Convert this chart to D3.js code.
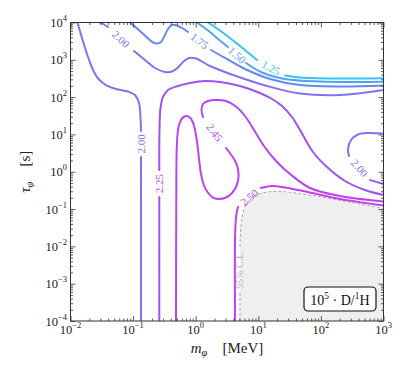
<!DOCTYPE html>
<html>
<head>
<meta charset="utf-8">
<script src="https://cdn.jsdelivr.net/npm/d3@7"></script>
<style>
  body { margin: 0; background: #fff; }
</style>
</head>
<body>
<script>
// tick exponents (10^e)
const xTickExp = [-2, -1, 0, 1, 2, 3];
const yTickExp = [-4, -3, -2, -1, 0, 1, 2, 3, 4];

const levels = ["1.25", "1.50", "1.75", "2.00", "2.25", "2.45", "2.50"];

// contours as [m_phi (MeV), tau_phi (s)]; each contour is split into segments,
// the inline label sits in the gap between two segments
const c125 = [
  [[1.57, 1e4], [2.63, 5560], [5.10, 2344], [9.53, 989]],
  [[26.7, 380], [46.4, 336], [202, 316], [1000, 320]]
];
const c150 = [
  [[1.05, 1e4], [1.69, 5560], [2.44, 3293], [3.28, 2205]],
  [[6.36, 821], [11.5, 457], [26.7, 306], [96.7, 262], [1000, 258]]
];
const c175 = [
  [[0.0892, 1e4], [0.1289, 5918], [0.1667, 3963], [0.208, 2911], [0.241, 2737], [0.279, 3002],
   [0.3117, 4088], [0.361, 6696], [0.418, 8570], [0.503, 8311], [0.604, 7123], [0.753, 5560]],
  [[1.76, 1832], [2.94, 1119], [6.13, 567], [15.4, 306], [46.4, 211], [202, 193], [1000, 205]]
];
const c200top = [
  [[0.0296, 1e4], [0.0343, 8839], [0.0397, 7573]],
  [[0.1034, 1723], [0.155, 989], [0.2238, 603], [0.3233, 471], [0.418, 486], [0.522, 622],
   [0.627, 874], [0.782, 1119], [1.01, 1084], [1.69, 682], [3.94, 392], [13.8, 199],
   [46.4, 125], [202, 114], [1000, 155]]
];
const c200left = [
  [[0.01294, 1e4], [0.01527, 3842], [0.01904, 1190], [0.02373, 471], [0.02852, 297],
   [0.0369, 211], [0.0533, 165], [0.0829, 141], [0.1072, 114], [0.1243, 69.6],
   [0.1313, 27.6], [0.1337, 12.4]],
  [[0.1337, 2.48], [0.1337, 1e-4]]
];
const c200right = [
  [[1000, 10.6], [565, 10.9], [391, 9.96], [303, 7.09], [271, 4.07], [281, 2.64]],
  [[609, 0.601], [1000, 0.470]]
];
const c225 = [
  [[0.262, 1e-4], [0.262, 0.2105]],
  [[0.262, 1.11], [0.264, 13.1], [0.274, 51.1], [0.3003, 101], [0.361, 155], [0.522, 199],
   [0.811, 239], [1.41, 270], [2.44, 254], [5.10, 199], [10.6, 129], [16.6, 89.1],
   [23.9, 57.8], [34.5, 29.3], [46.4, 13.1], [74.8, 3.38], [125, 1.34], [243, 0.565],
   [506, 0.324], [1000, 0.238]]
];
const c245 = [
  [[0.4844, 1e-4], [0.4898, 0.175], [0.497, 3.83], [0.512, 9.66], [0.541, 17.9], [0.604, 26.7],
   [0.70, 31.2], [0.811, 28.4], [0.922, 19.0], [1.01, 9.66], [1.09, 3.83], [1.15, 1.71],
   [1.215, 0.87], [1.33, 0.470], [1.54, 0.286], [1.89, 0.204], [2.36, 0.186], [3.05, 0.204],
   [3.80, 0.269], [4.48, 0.415], [4.83, 0.723], [4.65, 1.34], [4.09, 2.19], [3.05, 4.33]],
  [[1.31, 29.3], [1.238, 45.2], [1.31, 65.4], [1.57, 78.7], [2.11, 83.7], [3.05, 78.7],
   [4.40, 56.1], [6.13, 31.2], [8.54, 13.1], [12.3, 4.90], [19.2, 1.94], [32.1, 0.87],
   [67.0, 0.367], [202, 0.224], [1000, 0.159]]
];
const c250 = [
  [[4.245, 1e-4], [4.245, 0.01483], [4.32, 0.0374], [4.48, 0.0737], [4.74, 0.1136]],
  [[11.0, 0.367], [16.6, 0.415], [26.7, 0.378], [67.0, 0.278], [202, 0.186], [1000, 0.1245]]
];
// 95% C.L. excluded region boundary
const clBound = [
  [[5.10, 1e-4], [5.10, 0.000598]],
  [[5.10, 0.00962], [5.20, 0.0243], [5.49, 0.0576], [6.13, 0.1136], [7.10, 0.175], [8.86, 0.231],
   [11.5, 0.269], [16.6, 0.295], [23.9, 0.295], [67.0, 0.238], [261, 0.159], [1000, 0.1035]]
];

const contours = [
  {level: "1.25", segs: c125},
  {level: "1.50", segs: c150},
  {level: "1.75", segs: c175},
  {level: "2.00", segs: c200top},
  {level: "2.00", segs: c200left},
  {level: "2.00", segs: c200right},
  {level: "2.25", segs: c225},
  {level: "2.45", segs: c245},
  {level: "2.50", segs: c250}
];

const color = d3.scaleOrdinal()
  .domain(levels)
  .range(["#38c4f2", "#4fa4f2", "#6489f0", "#8470f2", "#a052f2", "#b845f2", "#c23ff2"]);

const W = 411, H = 377;
const margin = {top: 22.5, right: 27.5, bottom: 56, left: 70.5};
const serif = "'Liberation Serif', 'DejaVu Serif', serif";

const x = d3.scaleLog().domain([1e-2, 1e3]).range([margin.left, W - margin.right]);
const y = d3.scaleLog().domain([1e-4, 1e4]).range([H - margin.bottom, margin.top]);

const svg = d3.select("body").append("svg")
  .attr("width", W)
  .attr("height", H);

svg.append("defs").append("clipPath").attr("id", "clip")
  .append("rect")
  .attr("x", margin.left).attr("y", margin.top)
  .attr("width", W - margin.left - margin.right)
  .attr("height", H - margin.top - margin.bottom);

const plot = svg.append("g").attr("clip-path", "url(#clip)");

const line = d3.line()
  .x(d => x(d[0]))
  .y(d => y(d[1]))
  .curve(d3.curveCatmullRom.alpha(0.5));

// grey excluded region
const clAll = clBound[0].concat(clBound[1]);
plot.append("path")
  .attr("d", line(clAll) + "L" + x(1e3) + "," + y(1e-4) + "Z")
  .attr("fill", "#efefef")
  .attr("stroke", "none");

clBound.forEach(seg => {
  plot.append("path")
    .attr("d", line(seg))
    .attr("fill", "none")
    .attr("stroke", "#a8a8a8")
    .attr("stroke-width", 1)
    .attr("stroke-dasharray", "3,2");
});

// label in the gap between two segments, rotated along the gap
function gapLabel(a, b, txt, fill, size) {
  const x1 = x(a[0]), y1 = y(a[1]), x2 = x(b[0]), y2 = y(b[1]);
  let ang = Math.atan2(y2 - y1, x2 - x1) * 180 / Math.PI;
  if (ang >= 90) ang -= 180;
  if (ang < -90) ang += 180;
  svg.append("text")
    .attr("transform", "translate(" + (x1 + x2) / 2 + "," + (y1 + y2) / 2 + ") rotate(" + ang + ")")
    .attr("text-anchor", "middle")
    .attr("dy", "0.35em")
    .attr("font-family", serif)
    .attr("font-size", size)
    .attr("fill", fill)
    .text(txt);
}

gapLabel(clBound[0][1], clBound[1][0], "95% C.L.", "#b4b4b4", 10);

contours.forEach(c => {
  c.segs.forEach(seg => {
    plot.append("path")
      .attr("d", line(seg))
      .attr("fill", "none")
      .attr("stroke", color(c.level))
      .attr("stroke-width", 2)
      .attr("stroke-linecap", "round");
  });
  for (let i = 0; i < c.segs.length - 1; i++) {
    const a = c.segs[i][c.segs[i].length - 1];
    const b = c.segs[i + 1][0];
    gapLabel(a, b, c.level, color(c.level), 11);
  }
});

// ticks, all pointing inward
const xMajor = xTickExp.map(e => Math.pow(10, e));
const yMajor = yTickExp.map(e => Math.pow(10, e));
const xMinor = [], yMinor = [];
for (let e = xTickExp[0]; e < xTickExp[xTickExp.length - 1]; e++)
  for (let k = 2; k <= 9; k++) xMinor.push(k * Math.pow(10, e));
for (let e = yTickExp[0]; e < yTickExp[yTickExp.length - 1]; e++)
  for (let k = 2; k <= 9; k++) yMinor.push(k * Math.pow(10, e));

const sides = [
  [d3.axisBottom(x), xMajor, xMinor, "translate(0," + (H - margin.bottom) + ")"],
  [d3.axisTop(x), xMajor, xMinor, "translate(0," + margin.top + ")"],
  [d3.axisLeft(y), yMajor, yMinor, "translate(" + margin.left + ",0)"],
  [d3.axisRight(y), yMajor, yMinor, "translate(" + (W - margin.right) + ",0)"]
];
sides.forEach(s => {
  [[s[1], 5], [s[2], 2.5]].forEach(t => {
    const g = svg.append("g")
      .attr("transform", s[3])
      .call(s[0].tickValues(t[0]).tickSize(-t[1]).tickSizeOuter(0).tickFormat(""));
    g.select(".domain").remove();
    g.selectAll("line").attr("stroke", "#333").attr("stroke-width", 0.8);
  });
});

svg.append("rect")
  .attr("x", margin.left).attr("y", margin.top)
  .attr("width", W - margin.left - margin.right)
  .attr("height", H - margin.top - margin.bottom)
  .attr("fill", "none")
  .attr("stroke", "#333")
  .attr("stroke-width", 1);

// tick labels 10^e
function powLabel(sel, e) {
  sel.append("tspan").text("10");
  sel.append("tspan")
    .attr("font-size", 8.5)
    .attr("dy", -6)
    .text(String(e).replace("-", "\u2212"));
}
xTickExp.forEach(e => {
  const t = svg.append("text")
    .attr("x", x(Math.pow(10, e)))
    .attr("y", 333.5)
    .attr("text-anchor", "middle")
    .attr("font-family", serif)
    .attr("font-size", 12.5)
    .attr("fill", "#222");
  powLabel(t, e);
});
yTickExp.forEach(e => {
  const t = svg.append("text")
    .attr("x", 67)
    .attr("y", y(Math.pow(10, e)) + 4.5)
    .attr("text-anchor", "end")
    .attr("font-family", serif)
    .attr("font-size", 12.5)
    .attr("fill", "#222");
  powLabel(t, e);
});

// axis titles
const xl = svg.append("text")
  .attr("x", (margin.left + W - margin.right) / 2)
  .attr("y", 353)
  .attr("text-anchor", "middle")
  .attr("font-family", serif)
  .attr("font-size", 15)
  .attr("fill", "#222");
xl.append("tspan").attr("font-style", "italic").text("m");
xl.append("tspan").attr("font-style", "italic").attr("font-size", 10.5).attr("dy", 3).text("\u03c6");
xl.append("tspan").attr("dy", -3).text("\u2003[MeV]");

const yl = svg.append("text")
  .attr("transform", "translate(30," + (margin.top + H - margin.bottom) / 2 + ") rotate(-90)")
  .attr("text-anchor", "middle")
  .attr("font-family", serif)
  .attr("font-size", 15)
  .attr("fill", "#222");
yl.append("tspan").attr("font-style", "italic").text("\u03c4");
yl.append("tspan").attr("font-style", "italic").attr("font-size", 10.5).attr("dy", 3).text("\u03c6");
yl.append("tspan").attr("dy", -3).text("\u2003[s]");

// legend box
svg.append("rect")
  .attr("x", 304).attr("y", 287)
  .attr("width", 72).attr("height", 24)
  .attr("rx", 4)
  .attr("fill", "#fff")
  .attr("stroke", "#111")
  .attr("stroke-width", 1.2);
const lg = svg.append("text")
  .attr("x", 340).attr("y", 305)
  .attr("text-anchor", "middle")
  .attr("font-family", serif)
  .attr("font-size", 14)
  .attr("fill", "#111");
lg.append("tspan").text("10");
lg.append("tspan").attr("font-size", 9.5).attr("dy", -6).text("5");
lg.append("tspan").attr("dy", 6).text(" \u00b7 D/");
lg.append("tspan").attr("font-size", 9.5).attr("dy", -6).text("1");
lg.append("tspan").attr("dy", 6).text("H");
</script>
</body>
</html>
